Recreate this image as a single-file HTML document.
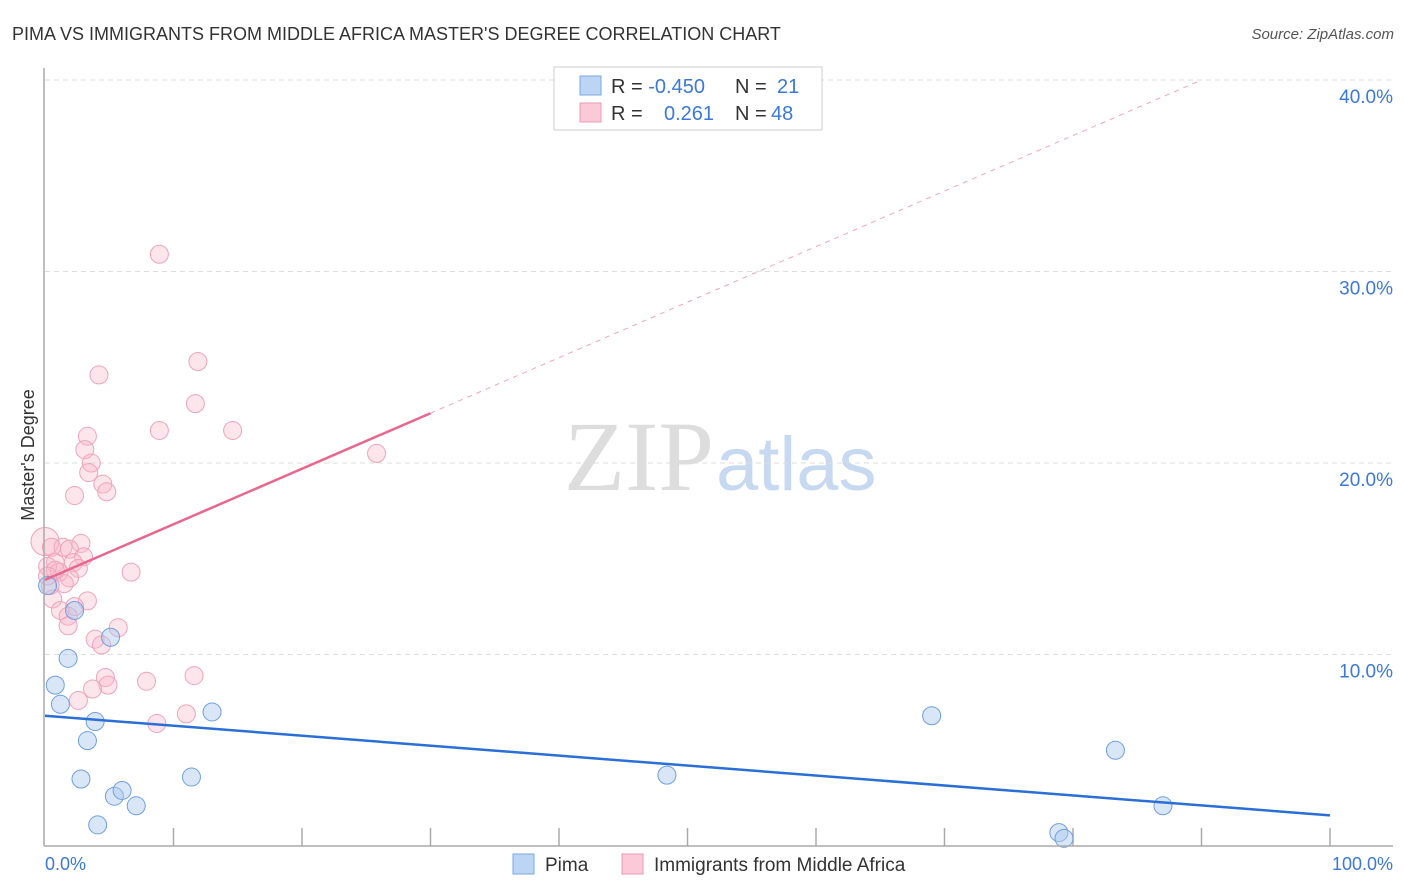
<!DOCTYPE html>
<html><head><meta charset="utf-8"><style>
body{margin:0;background:#fff;font-family:"Liberation Sans",sans-serif;}
svg{display:block}
</style></head><body>
<svg id="c" width="1406" height="892" xmlns="http://www.w3.org/2000/svg">
<text x="12" y="40" font-size="18" fill="#333">PIMA VS IMMIGRANTS FROM MIDDLE AFRICA MASTER'S DEGREE CORRELATION CHART</text>
<text x="1394" y="39" font-size="15" font-style="italic" fill="#555" text-anchor="end">Source: ZipAtlas.com</text>
<text x="714" y="490" font-size="100" font-family="Liberation Serif,serif" fill="#ddd" text-anchor="end">ZIP</text>
<text x="716" y="490" font-size="76" fill="#c7d9f0">atlas</text>
<text transform="translate(34,455) rotate(-90)" font-size="18" fill="#333" text-anchor="middle">Master's Degree</text>
<g id="grid"></g><g id="pts"></g><g id="lines"></g>
<line x1="44" y1="68" x2="44" y2="846" stroke="#aaa" stroke-width="1.5"/>
<line x1="44" y1="846" x2="1393" y2="846" stroke="#aaa" stroke-width="1.5"/>
<text x="45" y="870" font-size="18" fill="#3b78d8">0.0%</text>
<text x="1393" y="870" font-size="18" fill="#3b78d8" text-anchor="end">100.0%</text>
<g>
<rect x="554" y="67" width="268" height="63" fill="#fff" stroke="#ccc"/>
<rect x="580" y="76" width="21" height="19" fill="#bcd5f5" stroke="#7aa7e0"/>
<rect x="580" y="103" width="21" height="19" fill="#fbc9d8" stroke="#eb98b4"/>
<text x="611" y="93" font-size="20" fill="#333">R = <tspan fill="#3b78d8">-0.450</tspan><tspan x="735">N = </tspan><tspan fill="#3b78d8" x="777">21</tspan></text>
<text x="611" y="120" font-size="20" fill="#333">R = <tspan fill="#3b78d8" x="664">0.261</tspan><tspan x="735">N = </tspan><tspan fill="#3b78d8" x="771">48</tspan></text>
</g>
<g>
<rect x="513" y="854" width="21" height="20" fill="#bcd5f5" stroke="#7aa7e0"/>
<text x="545" y="871" font-size="19" fill="#333">Pima</text>
<rect x="622" y="854" width="21" height="20" fill="#fbc9d8" stroke="#eb98b4"/>
<text x="654" y="871" font-size="19" fill="#333">Immigrants from Middle Africa</text>
</g>
</svg>
<script>
const yTicks=[10,20,30,40];
const xTicks=[0,10,20,30,40,50,60,70,80,90,100];
const pimaX=[0.2,0.8,1.2,1.8,5.1,3.9,3.3,2.8,5.4,6,7.1,4.1,11.4,13,48.4,69,83.3,87,78.9,79.3,2.3];
const pimaY=[13.6,8.4,7.4,9.8,10.9,6.5,5.5,3.5,2.6,2.9,2.1,1.1,3.6,7,3.7,6.8,5,2.1,0.7,0.4,12.3];
const afrX=[0,8.9,11.9,4.2,11.7,8.9,14.6,3.3,3.1,3.6,3.4,4.5,4.8,2.3,25.8,2.8,1.4,0.5,1.9,3,0.8,2.2,0.2,2.6,1.1,6.7,1.9,1.5,0.4,0.6,3.3,2.3,1.2,1.8,1.8,5.7,3.9,4.4,4.7,4.9,3.7,7.9,11.6,2.6,8.7,11,0.8,0.2];
const afrY=[15.9,30.9,25.3,24.6,23.1,21.7,21.7,21.4,20.7,20,19.5,18.9,18.5,18.3,20.5,15.8,15.6,15.6,15.5,15.1,14.8,14.8,14.6,14.5,14.3,14.3,14,13.7,13.6,12.9,12.8,12.5,12.3,12,11.5,11.4,10.8,10.5,8.8,8.4,8.2,8.6,8.9,7.6,6.4,6.9,14.4,14.1];
const afrSize=[14,9,9,9,9,9,9,9,9,9,9,9,9,9,9,9,9,9,9,9,9,9,9,9,9,9,9,9,9,9,9,9,9,9,9,9,9,9,9,9,9,9,9,9,9,9,9,9];
const pimaTrend=[0,6.8,100,1.6];
const afrTrend=[0,13.9,30,22.6,90,40];
const X=v=>45+v*12.85, Y=v=>846-v*19.15;
const NS="http://www.w3.org/2000/svg";
function mk(t,a,p){const e=document.createElementNS(NS,t);for(const k in a)e.setAttribute(k,a[k]);p.appendChild(e);return e;}
const g=document.getElementById('grid');
yTicks.forEach(t=>{
 const l=mk('line',{x1:45,x2:1393,y1:Y(t),y2:Y(t),stroke:'#ddd','stroke-dasharray':'5,4'},g);
 
 
 const tx=mk('text',{x:1393,y:Y(t)+23,'font-size':19,fill:'#3b78d8','text-anchor':'end'},g);tx.textContent=t.toFixed(1)+'%';
 
 
});
xTicks.forEach(t=>{if(t===0)return;
 const l=mk('line',{x1:X(t),x2:X(t),y1:828,y2:846,stroke:'#aaa','stroke-width':1.5},g);
 
 
});
const p=document.getElementById('pts');
afrX.forEach((x,i)=>{const c=mk('circle',{cx:X(x),cy:Y(afrY[i]),r:afrSize[i],fill:'rgba(248,180,200,0.35)',stroke:'#eea3bd','stroke-width':1},p);
 
 });
pimaX.forEach((x,i)=>{const c=mk('circle',{cx:X(x),cy:Y(pimaY[i]),r:9,fill:'rgba(170,200,240,0.45)',stroke:'#6f9fe0','stroke-width':1},p);
 
 });
const L=document.getElementById('lines');
let a=mk('line',{x1:X(pimaTrend[0]),y1:Y(pimaTrend[1]),x2:X(pimaTrend[2]),y2:Y(pimaTrend[3]),stroke:'#2a6fd6','stroke-width':2.5},L);


let b=mk('line',{x1:X(afrTrend[0]),y1:Y(afrTrend[1]),x2:X(afrTrend[2]),y2:Y(afrTrend[3]),stroke:'#e8678f','stroke-width':2.5},L);


let d=mk('line',{x1:X(afrTrend[2]),y1:Y(afrTrend[3]),x2:X(afrTrend[4]),y2:Y(afrTrend[5]),stroke:'#f0a5bd','stroke-width':1,'stroke-dasharray':'5,5'},L);


</script>
</body></html>
